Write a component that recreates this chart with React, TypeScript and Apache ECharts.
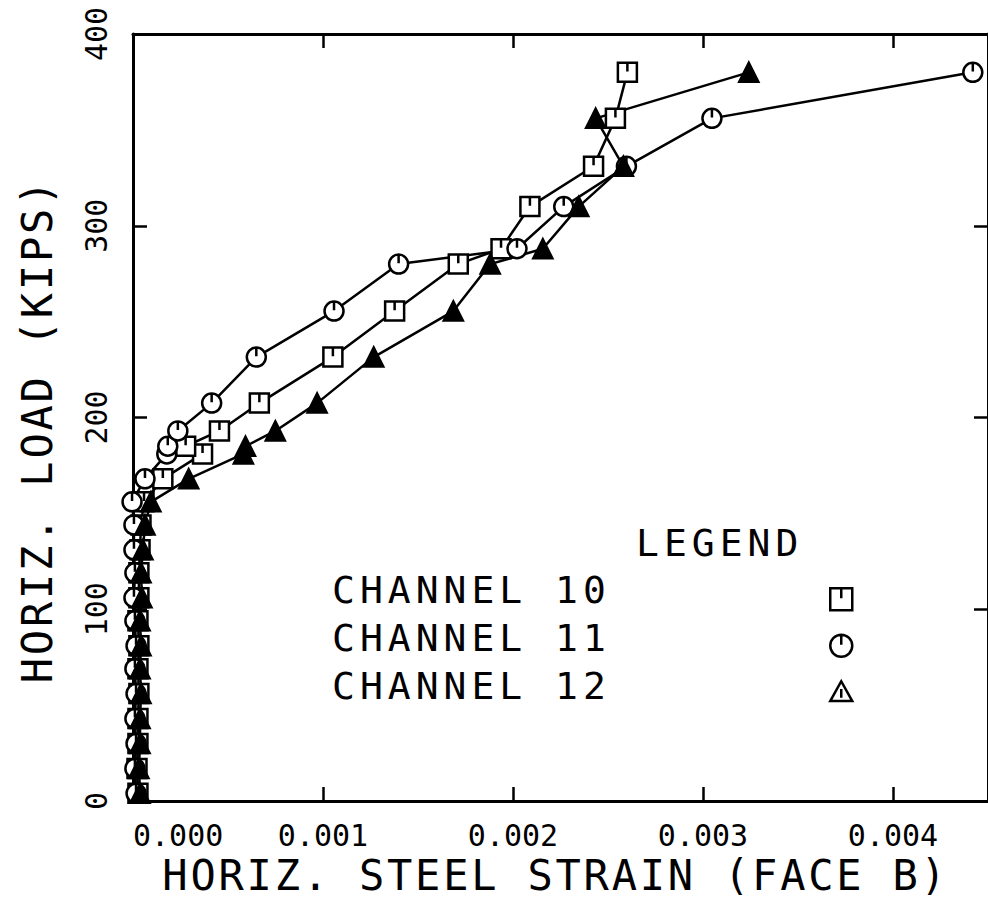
import React, { useEffect, useRef } from "react";
import * as echarts from "echarts";

// Horizontal load (kips) at each recorded step, shared by all channels
const loads = [4, 17, 30, 43, 56, 69, 81, 94, 106, 119, 131, 144, 156, 168, 181, 185, 193, 207.5, 231.5, 255.5, 280, 288, 310, 331, 356, 380];

// Horizontal steel strain (face B) per channel
const channel10 = [0.000026, 0.000021, 0.000026, 0.000026, 0.000031, 0.000026, 0.000031, 0.000026, 0.000031, 0.000031, 0.000037, 0.000042, 0.000058, 0.000157, 0.000366, 0.000277, 0.000455, 0.000665, 0.001052, 0.001377, 0.001712, 0.001937, 0.002089, 0.002424, 0.002539, 0.002602];
const channel11 = [0.000016, 0.000010, 0.000016, 0.000010, 0.000016, 0.000010, 0.000016, 0.000010, 0.000005, 0.000010, 0.000005, 0.000005, -0.000005, 0.000063, 0.000178, 0.000183, 0.000236, 0.000414, 0.000649, 0.001058, 0.001398, 0.002021, 0.002267, 0.002597, 0.003047, 0.00442];
const channel12 = [0.000037, 0.000031, 0.000037, 0.000037, 0.000042, 0.000037, 0.000042, 0.000037, 0.000047, 0.000042, 0.000052, 0.000063, 0.000094, 0.000293, 0.000581, 0.000592, 0.000749, 0.000969, 0.001267, 0.001686, 0.00188, 0.002157, 0.002346, 0.002581, 0.002435, 0.003241];

const seriesNames = ["CHANNEL 10", "CHANNEL 11", "CHANNEL 12"];
const xTitle = "HORIZ. STEEL STRAIN (FACE B)";
const yTitle = "HORIZ. LOAD (KIPS)";
const legendTitle = "LEGEND";

const xMin = 0;
const xMax = 0.0045;
const xStep = 0.001;
const yMin = 0;
const yMax = 400;
const yStep = 100;

const FONT = "DejaVu Sans Mono";
const SQUARE = "path://M0,0H20V20H0Z M10,0V9";
const CIRCLE = "path://M10,0A10,10,0,1,1,10,20A10,10,0,1,1,10,0Z M10,0V9";
const TRIANGLE = "path://M10,0L20,18L0,18Z M10,7V15";

const SPACING: Record<string, number> = {
  [xTitle]: 2.8,
  [yTitle]: 2.8,
  [legendTitle]: 5,
  "CHANNEL 10": 5,
  "CHANNEL 11": 5,
  "CHANNEL 12": 5,
};

const axisLine = () => ({ show: true, onZero: false, lineStyle: { color: "#000", width: 3 } });
const axisTick = () => ({ show: true, inside: true, length: 14, lineStyle: { color: "#000", width: 2.5 } });

export default function App() {
  const ref = useRef<HTMLDivElement>(null);

  useEffect(() => {
    if (!ref.current) return;
    const chart = echarts.init(ref.current, undefined, { renderer: "svg" });
    const chans = [channel10, channel11, channel12];
    const symbols = [SQUARE, CIRCLE, TRIANGLE];
    const fills = ["#fff", "#fff", "#000"];

    chart.setOption({
      animation: false,
      backgroundColor: "#fff",
      grid: { left: 133, top: 34, width: 860, height: 767, containLabel: false },
      xAxis: [
        {
          type: "value",
          min: xMin,
          max: xMax,
          interval: xStep,
          position: "bottom",
          axisLine: axisLine(),
          axisTick: axisTick(),
          splitLine: { show: false },
          axisLabel: {
            show: true,
            inside: false,
            margin: 19,
            fontFamily: FONT,
            fontSize: 30,
            color: "#000",
            showMaxLabel: false,
            alignMinLabel: "left",
            formatter: (v: number) => v.toFixed(3),
          },
          name: xTitle,
          nameLocation: "middle",
          nameGap: 42,
          nameTextStyle: { fontFamily: FONT, fontSize: 42, color: "#000", padding: [0, 10, 0, 0] },
        },
        {
          type: "value",
          min: xMin,
          max: xMax,
          interval: xStep,
          position: "top",
          axisLine: axisLine(),
          axisTick: axisTick(),
          splitLine: { show: false },
          axisLabel: { show: false },
        },
      ],
      yAxis: [
        {
          type: "value",
          min: yMin,
          max: yMax,
          interval: yStep,
          position: "left",
          axisLine: axisLine(),
          axisTick: axisTick(),
          splitLine: { show: false },
          axisLabel: { show: true, inside: false, rotate: 90, margin: 22, fontFamily: FONT, fontSize: 30, color: "#000" },
          name: yTitle,
          nameLocation: "middle",
          nameGap: 75,
          nameTextStyle: { fontFamily: FONT, fontSize: 42, color: "#000", padding: [0, 26, 0, 0] },
        },
        {
          type: "value",
          min: yMin,
          max: yMax,
          interval: yStep,
          position: "right",
          axisLine: axisLine(),
          axisTick: axisTick(),
          splitLine: { show: false },
          axisLabel: { show: false },
        },
      ],
      legend: [
        {
          orient: "vertical",
          left: 824,
          top: 582,
          itemWidth: 22,
          itemHeight: 22,
          itemGap: 22,
          formatter: () => "",
          itemStyle: { color: "#fff", borderColor: "#000", borderWidth: 2.5 },
          data: seriesNames.map((n, i) => ({ name: n, icon: symbols[i] })),
          selectedMode: false,
        },
        {
          orient: "vertical",
          left: 322,
          top: 566,
          itemWidth: 0,
          itemHeight: 22,
          itemGap: 10,
          textStyle: { fontFamily: FONT, fontSize: 38, color: "#000" },
          data: seriesNames.map((n) => ({ name: n, icon: "none" })),
          selectedMode: false,
        },
      ],
      graphic: [
        {
          type: "text",
          left: 636,
          top: 524,
          style: { text: legendTitle, fontFamily: FONT, fontSize: 38, fill: "#000" },
        },
      ],
      series: chans.map((ch, i) => ({
        name: seriesNames[i],
        type: "line",
        xAxisIndex: 0,
        yAxisIndex: 0,
        clip: false,
        symbol: symbols[i],
        symbolSize: 19,
        showAllSymbol: true,
        lineStyle: { color: "#000", width: 2.5 },
        itemStyle: { color: fills[i], borderColor: "#000", borderWidth: 2.5 },
        data: loads.map((l, j) => [ch[j], l]),
      })),
    });

    const applySpacing = () => {
      const texts = ref.current?.querySelectorAll("text");
      texts?.forEach((t) => {
        const s = (t.textContent || "").trim();
        if (SPACING[s] != null) (t as SVGTextElement).style.letterSpacing = SPACING[s] + "px";
      });
    };
    applySpacing();
    const raf = requestAnimationFrame(applySpacing);
    const to = setTimeout(applySpacing, 30);

    return () => {
      cancelAnimationFrame(raf);
      clearTimeout(to);
      chart.dispose();
    };
  }, []);

  return (
    <div
      ref={ref}
      style={{ position: "absolute", left: 0, top: 0, width: 988, height: 909, background: "#fff" }}
    />
  );
}
